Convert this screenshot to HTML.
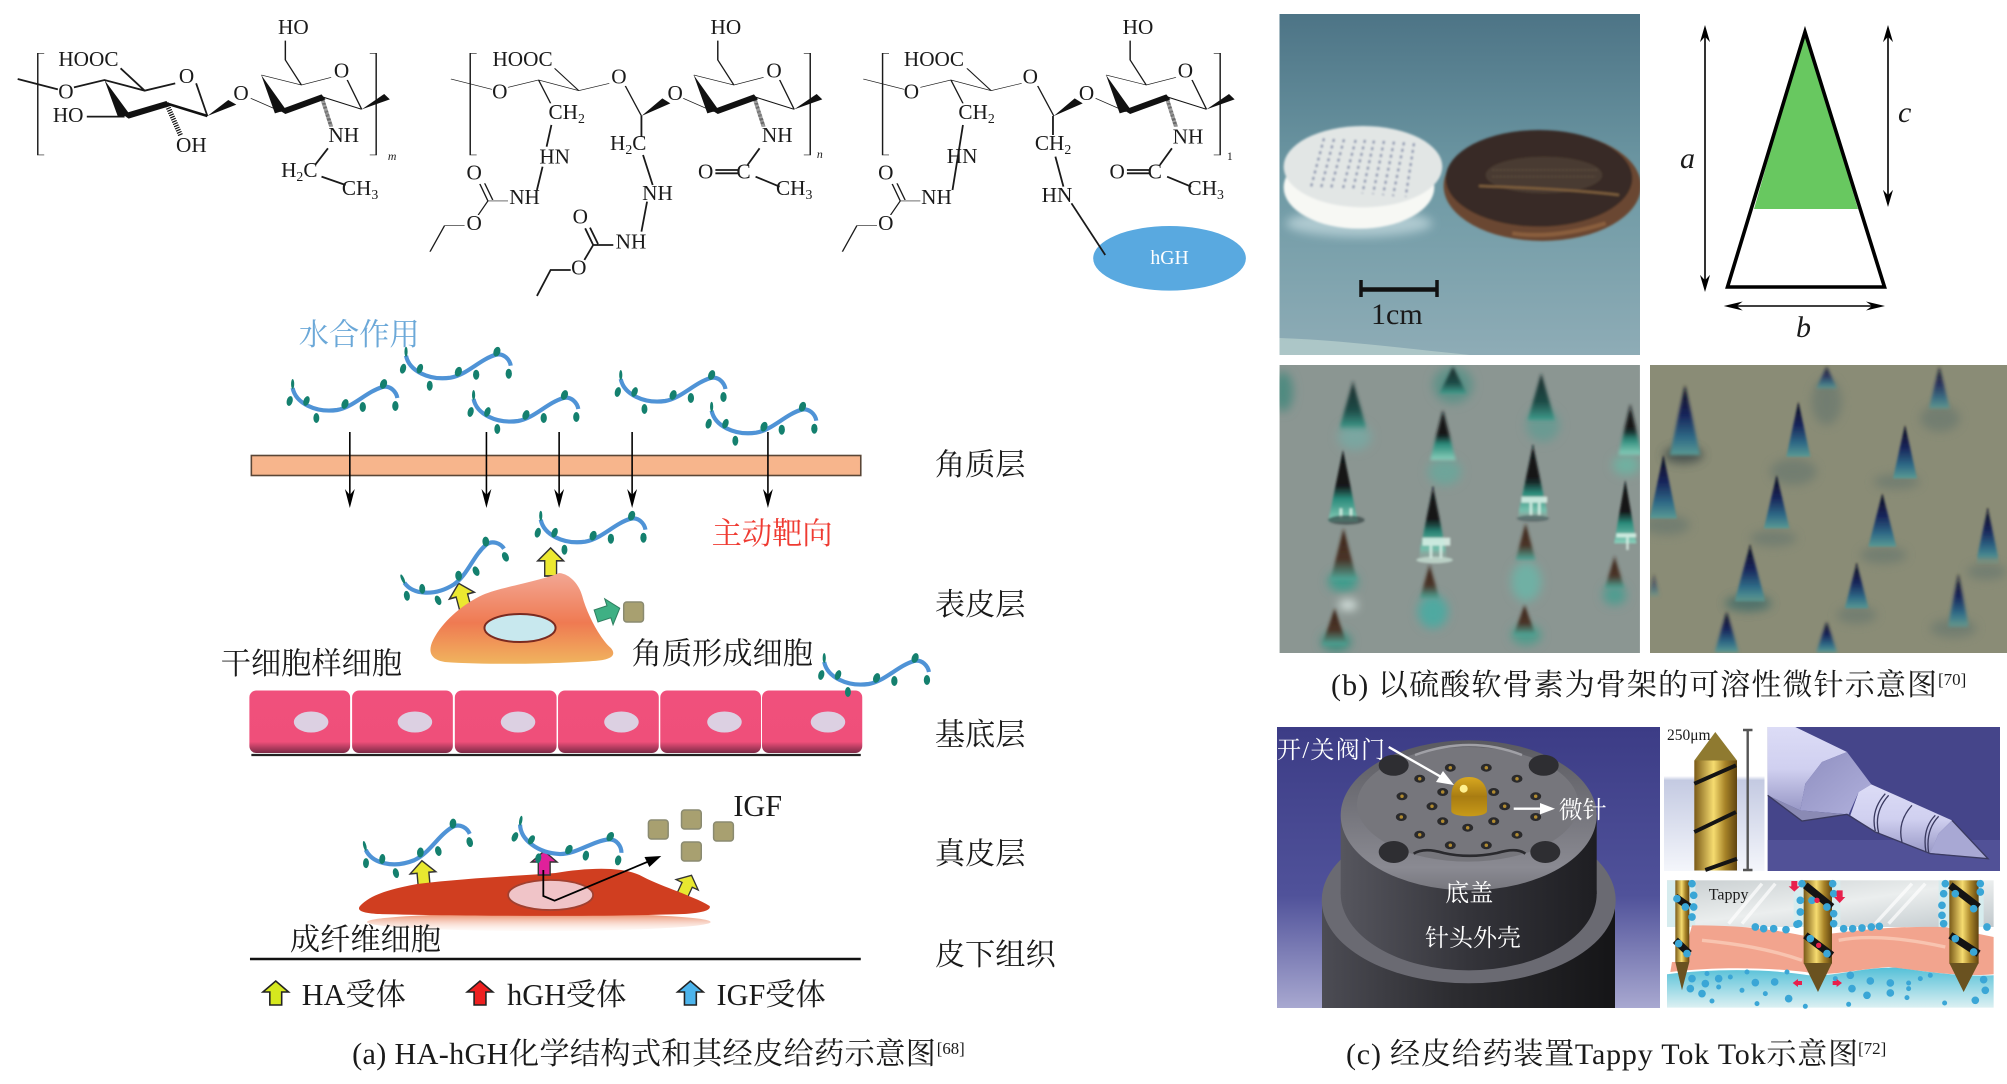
<!DOCTYPE html>
<html lang="zh"><head><meta charset="utf-8"><title>HA-hGH</title>
<style>
html,body{margin:0;padding:0;background:#fff;width:2007px;height:1084px;overflow:hidden}
svg{display:block;position:absolute;left:0;top:0}
text{font-family:"Liberation Serif","Noto Serif CJK SC",serif;fill:#1a1a1a}
.z *{vector-effect:non-scaling-stroke}
.b{stroke:#1a1a1a;stroke-width:1.8;fill:none}
.m text{font-size:21.5px;text-anchor:middle}
.c{font-size:30.6px}
.w{fill:#fff;font-size:24px}
.ar{stroke:#333;stroke-width:1.4}
</style></head><body>
<svg width="2007" height="1084" viewBox="0 0 2007 1084" xmlns="http://www.w3.org/2000/svg">
<defs>
<g id="strand">
<path d="M4,8C7,23 27,33 49,30C66,27 78,12 95,7C103,5 109,12 110,18" fill="none" stroke="#4f93d6" stroke-width="4.2"/>
<g fill="#14806e"><ellipse cx="1" cy="21" rx="3" ry="5" transform="rotate(15 1 21)"/><ellipse cx="4" cy="4" rx="1.6" ry="5"/><ellipse cx="18" cy="21" rx="3" ry="5" transform="rotate(20 18 21)"/><ellipse cx="28" cy="38" rx="3" ry="5"/><ellipse cx="57" cy="24" rx="3.4" ry="5" transform="rotate(20 57 24)"/><ellipse cx="75" cy="27" rx="3.2" ry="5"/><ellipse cx="96" cy="4" rx="3.4" ry="5" transform="rotate(20 96 4)"/><ellipse cx="108" cy="26" rx="3.2" ry="5"/></g>
</g>
<polygon id="up" points="-6,0 -6,-13 -13,-13 0,-24 13,-13 6,-13 6,0"/>
<g id="ah"><polygon points="0,0 -5,-19 0,-13 5,-19" fill="#000"/></g>
<linearGradient id="ker" x1="0" y1="0" x2="0" y2="1"><stop offset="0" stop-color="#f3a794"/><stop offset=".55" stop-color="#ef7a52"/><stop offset="1" stop-color="#f0b45e"/></linearGradient>
<linearGradient id="cell" x1="0" y1="0" x2="0" y2="1"><stop offset="0" stop-color="#f0507c"/><stop offset=".82" stop-color="#ef4f7a"/><stop offset="1" stop-color="#7c2a46"/></linearGradient>
<linearGradient id="shad" x1="0" y1="0" x2="0" y2="1"><stop offset="0" stop-color="#e8805a"/><stop offset="1" stop-color="#fbe6dc" stop-opacity=".2"/></linearGradient>
<linearGradient id="ph" x1="0" y1="0" x2="0" y2="1"><stop offset="0" stop-color="#4d7486"/><stop offset=".5" stop-color="#6f9aa5"/><stop offset="1" stop-color="#8eacb6"/></linearGradient>
<linearGradient id="n1" x1="0" y1="0" x2="0" y2="1"><stop offset="0" stop-color="#101214"/><stop offset=".5" stop-color="#15181a"/><stop offset=".68" stop-color="#2a8a7a"/><stop offset="1" stop-color="#8cd0bc"/></linearGradient>
<linearGradient id="n1f" x1="0" y1="0" x2="0" y2="1"><stop offset="0" stop-color="#1a2c2c"/><stop offset=".6" stop-color="#1e4a46"/><stop offset="1" stop-color="#3f9c8c"/></linearGradient>
<linearGradient id="n2" x1="0" y1="0" x2="0" y2="1"><stop offset="0" stop-color="#3c2418"/><stop offset=".6" stop-color="#4a3428"/><stop offset="1" stop-color="#4fa99a"/></linearGradient>
<linearGradient id="n3" x1="0" y1="0" x2="0" y2="1"><stop offset="0" stop-color="#0c0e1c"/><stop offset=".42" stop-color="#18245a"/><stop offset=".75" stop-color="#2f6a86"/><stop offset="1" stop-color="#5a9a94"/></linearGradient>
<polygon id="nd1" points="0,0 -12,1 12,1" fill="url(#n1)"/>
<polygon id="nd1f" points="0,0 -12,1 12,1" fill="url(#n1f)"/>
<polygon id="nd2" points="0,0 -11,1 11,1" fill="url(#n2)"/>
<polygon id="nd3" points="0,0 -12,1 12,1" fill="url(#n3)"/>
<filter id="bl" x="-30%" y="-30%" width="160%" height="160%"><feGaussianBlur stdDeviation="5"/></filter>
<filter id="blw" x="-30%" y="-30%" width="160%" height="160%"><feGaussianBlur stdDeviation="14"/></filter>
<filter id="bl1" x="-10%" y="-10%" width="120%" height="120%"><feGaussianBlur stdDeviation="3"/></filter>
<linearGradient id="bgc" x1="0" y1="0" x2="0" y2="1"><stop offset="0" stop-color="#3c3c86"/><stop offset=".6" stop-color="#50529a"/><stop offset="1" stop-color="#a8a8d0"/></linearGradient>
<linearGradient id="shell" x1="0" y1="0" x2="1" y2="0"><stop offset="0" stop-color="#4c4c54"/><stop offset=".45" stop-color="#2c2c30"/><stop offset="1" stop-color="#151517"/></linearGradient>
<linearGradient id="cyl" x1="0" y1="0" x2="1" y2="0"><stop offset="0" stop-color="#56565e"/><stop offset=".5" stop-color="#34343a"/><stop offset="1" stop-color="#1e1e22"/></linearGradient>
<linearGradient id="rim" x1="0" y1="0" x2="0" y2="1"><stop offset="0" stop-color="#5a5a60"/><stop offset=".85" stop-color="#8a8a92"/><stop offset="1" stop-color="#77777e"/></linearGradient>
<linearGradient id="gold" x1="0" y1="0" x2="1" y2="0"><stop offset="0" stop-color="#7a5a18"/><stop offset=".45" stop-color="#f6dc70"/><stop offset=".72" stop-color="#a88428"/><stop offset="1" stop-color="#604410"/></linearGradient>
<linearGradient id="bul" x1="0" y1="0" x2="0" y2="1"><stop offset="0" stop-color="#d8a820"/><stop offset=".5" stop-color="#a87c12"/><stop offset="1" stop-color="#c89a18"/></linearGradient>
<linearGradient id="bgn" x1="0" y1="0" x2="0" y2="1"><stop offset="0" stop-color="#fff"/><stop offset=".34" stop-color="#fff"/><stop offset=".37" stop-color="#c4cae2"/><stop offset="1" stop-color="#f4f6fb"/></linearGradient>
<linearGradient id="lav" x1="0" y1="0" x2="0" y2="1"><stop offset="0" stop-color="#dcdcf6"/><stop offset=".5" stop-color="#d0d0f0"/><stop offset="1" stop-color="#9898c6"/></linearGradient>
<linearGradient id="lav2" x1="0" y1="0" x2="1" y2="1"><stop offset="0" stop-color="#8f8fc0"/><stop offset="1" stop-color="#b0b0dc"/></linearGradient>
<linearGradient id="sky" x1="0" y1="0" x2="0" y2="1"><stop offset="0" stop-color="#55c0d8"/><stop offset="1" stop-color="#dcf0f2"/></linearGradient>
<linearGradient id="topg" x1="0" y1="0" x2="1" y2="1"><stop offset="0" stop-color="#c8ced0"/><stop offset=".5" stop-color="#ebeeee"/><stop offset="1" stop-color="#c0c8cc"/></linearGradient>

<g id="ring2">
<path class="b" d="M312,295L350,335M325,225L375,255L412,232M432,240L450,328M375,255L355,180L355,122"/>
<polygon points="325,225 342,340 356,330" fill="#111"/>
<polygon points="347,330 400,283 405,298 355,342" fill="#111"/>
<path d="M400,290L450,328" stroke="#111" stroke-width="2.6" fill="none"/>
<polygon points="450,328 478,282 485,298" fill="#111"/>
<path d="M400,290L412,380" stroke="#111" stroke-width="5" stroke-dasharray="1.2 1.2" fill="none"/>
</g>
<g id="left2">
<path class="b" d="M561,237L612,268M632,262L670,240L720,272L758,250M720,272L690,205M670,240L685,310M632,603L607,603M607,603L595,645M578,677L553,677L535,755"/>
<path class="b" d="M607,603L597,552M613,600L603,550"/>
<path class="b" d="M778,258L798,348"/>
<polygon points="798,348 824,295 834,310" fill="#111"/>
</g>
<path id="br" class="b" d="M55,160L47,160L47,465L55,465"/>
<path id="brr" class="b" d="M460,160L468,160L468,465L460,465"/>
</defs>

<!-- Chemical structures -->
<g class="z" transform="scale(.8038,.3333)">
<use href="#br"/><use href="#brr"/>
<path class="b" d="M22,237L72,268M92,262L130,240L180,272L218,250M180,272L150,205M244,250L258,348M108,350L155,350"/>
<polygon points="130,240 147,352 162,345" fill="#111"/>
<polygon points="152,342 207,303 212,318 160,356" fill="#111"/>
<path d="M207,310L258,348" stroke="#111" stroke-width="2.6"/>
<polygon points="258,348 284,300 294,314" fill="#111"/>
<path d="M207,310L225,408" stroke="#111" stroke-width="5" stroke-dasharray="1.2 1.2"/>
<use href="#ring2"/>
<path class="b" d="M408,445L392,495M400,530L430,555"/>

<use href="#br" transform="translate(538,0)"/><use href="#brr" transform="translate(540,0)"/>
<use href="#left2"/>
<use href="#ring2" transform="translate(538,0)"/>
<path class="b" d="M686,375L680,440M675,500L668,570"/>
<path class="b" d="M945,445L930,495M890,510L918,510M890,520L918,520M940,530L970,560"/>
<path class="b" d="M798,348L798,410M800,465L812,555M805,605L798,695M763,735L738,735L727,780M710,810L685,810L668,888M738,735L728,685M744,732L734,683"/>

<use href="#br" transform="translate(1051,0)"/><use href="#brr" transform="translate(1050,0)"/>
<use href="#left2" transform="translate(513,0)"/>
<use href="#ring2" transform="translate(1051,0)"/>
<path class="b" d="M1198,375L1185,570"/>
<path class="b" d="M1310,348L1310,405M1313,470L1323,560"/>
<path class="b" d="M1458,445L1443,495M1402,510L1430,510M1402,520L1430,520M1452,530L1482,560"/>
<ellipse cx="1455" cy="775" rx="95" ry="97" fill="#59a9e0"/>
<path class="b" d="M1333,610L1375,765"/>
</g>
<g class="m" transform="scale(.98783,1)">
<text x="89.5" y="66">HOOC</text><text x="66.7" y="98.7">O</text><text x="188.8" y="83">O</text><text x="69" y="122">HO</text><text x="193.7" y="152">OH</text><text x="244" y="100">O</text><text x="297" y="34">HO</text><text x="345.8" y="77.7">O</text><text x="348" y="142">NH</text><text x="303" y="177">H<tspan font-size="14" dy="4">2</tspan><tspan dy="-4">C</tspan></text><text x="364.5" y="195">CH<tspan font-size="14" dy="4">3</tspan></text><text x="397" y="160" style="font-size:12px;font-style:italic">m</text>
<text x="529" y="66">HOOC</text><text x="506" y="98.7">O</text><text x="626.5" y="83.7">O</text><text x="573.7" y="119">CH<tspan font-size="14" dy="4">2</tspan></text><text x="561.5" y="163.7">HN</text><text x="531" y="204">NH</text><text x="480" y="179.7">O</text><text x="480" y="230">O</text><text x="683.5" y="100">O</text><text x="734.8" y="34">HO</text><text x="783.6" y="77.7">O</text><text x="786.8" y="142">NH</text><text x="636" y="150">H<tspan font-size="14" dy="4">2</tspan><tspan dy="-4">C</tspan></text><text x="665.6" y="200">NH</text><text x="587.5" y="223.7">O</text><text x="638.8" y="248.7">NH</text><text x="585.9" y="274.3">O</text><text x="714.4" y="178.7">O</text><text x="752.7" y="178.7">C</text><text x="804" y="195">CH<tspan font-size="14" dy="4">3</tspan></text><text x="830" y="158" style="font-size:12px;font-style:italic">n</text>
<text x="945.5" y="66">HOOC</text><text x="922.7" y="98.7">O</text><text x="1043" y="83.7">O</text><text x="988.6" y="119">CH<tspan font-size="14" dy="4">2</tspan></text><text x="974" y="163">HN</text><text x="948" y="204">NH</text><text x="896.7" y="179.7">O</text><text x="896.7" y="230">O</text><text x="1100" y="100">O</text><text x="1152" y="34">HO</text><text x="1200" y="77.7">O</text><text x="1202.6" y="143.7">NH</text><text x="1066" y="150">CH<tspan font-size="14" dy="4">2</tspan></text><text x="1070" y="202">HN</text><text x="1131" y="178.7">O</text><text x="1169" y="178.7">C</text><text x="1220.6" y="195">CH<tspan font-size="14" dy="4">3</tspan></text><text x="1245" y="160" style="font-size:12px">1</text>
<text x="1184" y="264" style="font-size:20px;fill:#fff">hGH</text>
</g>

<!-- Skin diagram -->
<g transform="translate(200,0) scale(.9877,1) translate(-200,0)">
<text class="c" x="300" y="345" style="fill:#6ba8d8">水合作用</text>
<use href="#strand" x="289.8" y="380"/><use href="#strand" x="404.6" y="347.7"/><use href="#strand" x="473" y="391"/><use href="#strand" x="622" y="371"/><use href="#strand" x="714" y="402.7"/>
<rect x="252" y="455.5" width="617" height="20" fill="#f7b58c" stroke="#5a4636" stroke-width="1.6"/>
<g stroke="#000" stroke-width="1.6"><path d="M351.7,432V500M490,432V500M563.6,432V500M637.5,432V500M775,432V500"/></g>
<use href="#ah" x="351.7" y="508"/><use href="#ah" x="490" y="508"/><use href="#ah" x="563.6" y="508"/><use href="#ah" x="637.5" y="508"/><use href="#ah" x="775" y="508"/>
<text class="c" x="944" y="475">角质层</text>
<text class="c" x="718" y="544" style="fill:#ef3b32">主动靶向</text>

<use href="#up" transform="translate(555,576) scale(1,1.17)" fill="#ece830" class="ar"/>
<use href="#up" transform="translate(469,610) rotate(-15) scale(1,1.15)" fill="#ece830" class="ar"/>
<path d="M563.6,573C575,574 584,585 587,596C592,615 606,640 616,648C622,655 617,660 598,661C560,664 490,665 448,662C434,660 430,652 436,640C445,622 466,604 486,595C505,587 545,581 563.6,573Z" fill="url(#ker)"/>
<ellipse cx="524" cy="628" rx="36" ry="14" fill="#c8e8ee" stroke="#7a2a20" stroke-width="2"/>
<use href="#up" transform="translate(601,616) rotate(72) scale(1.05)" fill="#3fb084" stroke="#2f7f60" stroke-width="1"/>
<rect x="629" y="602" width="20" height="20" rx="3" fill="#a8a070" stroke="#8a8a70" stroke-width="1.5"/>
<use href="#strand" x="541" y="511.7"/>
<use href="#strand" transform="translate(400,577) rotate(-24)"/>
<text class="c" x="944" y="615">表皮层</text>
<text class="c" x="221" y="674">干细胞样细胞</text>
<text class="c" x="637" y="664">角质形成细胞</text>

<g fill="url(#cell)"><rect x="250" y="690.5" width="102" height="62.5" rx="7"/><rect x="354" y="690.5" width="102" height="62.5" rx="7"/><rect x="458" y="690.5" width="103" height="62.5" rx="7"/><rect x="562.5" y="690.5" width="102" height="62.5" rx="7"/><rect x="666" y="690.5" width="102" height="62.5" rx="7"/><rect x="769" y="690.5" width="101.5" height="62.5" rx="7"/></g>
<g fill="#dcd0e2"><ellipse cx="312.5" cy="722" rx="17.5" ry="10.5"/><ellipse cx="417.6" cy="722" rx="17.5" ry="10.5"/><ellipse cx="522" cy="722" rx="17.5" ry="10.5"/><ellipse cx="626.7" cy="722" rx="17.5" ry="10.5"/><ellipse cx="731" cy="722" rx="17.5" ry="10.5"/><ellipse cx="835.8" cy="722" rx="17.5" ry="10.5"/></g>
<path d="M252,755H869" stroke="#222" stroke-width="2.2"/>
<use href="#strand" x="828" y="654"/>
<text class="c" x="944" y="745">基底层</text>

<ellipse cx="543" cy="922" rx="174" ry="9" fill="url(#shad)"/>
<use href="#up" transform="translate(427,887) rotate(-5) scale(1,1.1)" fill="#e8e830" class="ar"/>
<use href="#up" transform="translate(688,896) rotate(25) scale(.95)" fill="#e8e830" class="ar"/>
<path d="M362,906C372,895 392,889 420,884C470,878 520,876 560,873C590,868 625,866 645,875C665,886 700,896 716,906C718,911 705,913 690,914C600,917 470,916 380,914C366,913 358,911 362,906Z" fill="#d03e20"/>
<ellipse cx="555" cy="895" rx="43" ry="15" fill="#f0c4c8" stroke="#a04030" stroke-width="1.8"/>
<use href="#up" transform="translate(548.5,875)" fill="#e0209a" class="ar"/>
<path d="M547.6,870V896L559,900.7L660,859" fill="none" stroke="#000" stroke-width="1.8"/>
<polygon points="667,856 650,857 655,867" fill="#000"/>
<use href="#strand" transform="translate(362,843) rotate(-14)"/>
<use href="#strand" transform="translate(521.5,816) rotate(10)"/>
<g fill="#a8a070" stroke="#8a8a70" stroke-width="1.5"><rect x="654" y="820" width="20" height="19" rx="3"/><rect x="687.5" y="810" width="20" height="19" rx="3"/><rect x="720" y="822" width="20" height="19" rx="3"/><rect x="687.5" y="842" width="20" height="19" rx="3"/></g>
<text class="c" x="740" y="816">IGF</text>
<text class="c" x="944" y="864">真皮层</text>
<text class="c" x="291" y="950" textLength="153">成纤维细胞</text>
<path d="M250.6,959H869" stroke="#111" stroke-width="2.4"/>
<text class="c" x="944" y="965">皮下组织</text>

<use href="#up" transform="translate(276.7,1005)" fill="#d6e81e" stroke="#222" stroke-width="1.6"/>
<text class="c" x="303" y="1005">HA受体</text>
<use href="#up" transform="translate(483.5,1005)" fill="#ee2020" stroke="#222" stroke-width="1.6"/>
<text class="c" x="511" y="1005">hGH受体</text>
<use href="#up" transform="translate(696.5,1005)" fill="#4cb4ec" stroke="#222" stroke-width="1.6"/>
<text class="c" x="723" y="1005">IGF受体</text>
<text class="c" x="354" y="1064" textLength="591">(a) HA-hGH化学结构式和其经皮给药示意图</text>
<text x="946" y="1054" style="font-size:17px">[68]</text>
</g>

<!-- (b) photo -->
<svg x="1279.5" y="14" width="360.5" height="341" viewBox="1279.5 14 360.5 341">
<rect x="1279.5" y="14" width="360.5" height="341" fill="url(#ph)"/>
<path d="M1279.5,338C1340,340 1400,348 1470,355H1279.5Z" fill="#c6dcd6" opacity=".55"/>
<g transform="translate(1279,110) scale(.3333)">
<ellipse cx="240" cy="340" rx="220" ry="40" fill="#d4e6ea" opacity=".6" filter="url(#blw)"/>
<g filter="url(#bl1)">
<ellipse cx="240" cy="232" rx="226" ry="124" fill="#f7f8f4"/>
<ellipse cx="252" cy="170" rx="238" ry="122" fill="#e2e6e5"/>
<path d="M135,85L95,235M165,87L125,238M195,88L155,240M230,90L190,243M258,90L220,245M285,92L250,250M315,93L282,252M345,95L312,255M375,97L342,258M405,100L380,260" stroke="#66749e" stroke-width="6" stroke-dasharray="9 11" fill="none"/>
<ellipse cx="790" cy="228" rx="296" ry="165" fill="#6b4630"/>
<ellipse cx="780" cy="205" rx="280" ry="145" fill="#382a25"/>
<ellipse cx="795" cy="195" rx="175" ry="55" fill="#4a3a30"/>
<path d="M640,180H960M640,200H950" stroke="#5c4d3e" stroke-width="6" stroke-dasharray="6 5"/>
<path d="M600,228C720,232 900,240 1020,255" stroke="#80603c" stroke-width="7" fill="none"/>
<path d="M700,370C800,385 900,365 980,340" stroke="#8a5f3c" stroke-width="12" fill="none"/>
</g>
</g>
<path d="M1362,289.5H1436" stroke="#111" stroke-width="4.5"/><path d="M1361,280V297M1437,280V297" stroke="#111" stroke-width="3.5"/>
<text class="c" x="1371" y="324" style="font-size:30px">1cm</text>
</svg>

<!-- triangle -->
<polygon points="1805,30 1754,209 1858,209" fill="#68c860"/>
<polygon points="1805,32 1727.5,287 1884.5,287" fill="none" stroke="#000" stroke-width="3.6" stroke-linejoin="miter"/>
<path d="M1705,35V282M1888,35V197M1734,306H1875" stroke="#000" stroke-width="1.6"/>
<use href="#ah" transform="translate(1705,25) rotate(180) scale(1,.9)"/><use href="#ah" transform="translate(1705,292) scale(1,.9)"/>
<use href="#ah" transform="translate(1888,25) rotate(180) scale(1,.9)"/><use href="#ah" transform="translate(1888,207) scale(1,.9)"/>
<use href="#ah" transform="translate(1723.7,306) rotate(90) scale(.9,1)"/><use href="#ah" transform="translate(1885,306) rotate(-90) scale(.9,1)"/>
<text x="1680" y="168" style="font-size:30px;font-style:italic">a</text>
<text x="1898" y="122" style="font-size:30px;font-style:italic">c</text>
<text x="1796" y="337" style="font-size:30px;font-style:italic">b</text>

<!-- micro-needle photos -->
<svg x="1279.5" y="365" width="360.5" height="288" viewBox="0 0 1081 864">
<rect width="1081" height="864" fill="#8b9692"/>
<g filter="url(#blw)">
<ellipse cx="10" cy="80" rx="30" ry="60" fill="#4f8a80"/>
<ellipse cx="520" cy="60" rx="60" ry="55" fill="#5f9288"/>
<ellipse cx="790" cy="180" rx="50" ry="50" fill="#6a9a92"/>
<ellipse cx="225" cy="215" rx="50" ry="40" fill="#7aa6a0"/>
<ellipse cx="495" cy="320" rx="50" ry="40" fill="#6ea49a"/>
<ellipse cx="1040" cy="300" rx="40" ry="30" fill="#6fb0a0"/>
<ellipse cx="190" cy="650" rx="45" ry="30" fill="#3f9c8c"/>
<ellipse cx="740" cy="650" rx="45" ry="60" fill="#70b0a4"/>
<ellipse cx="460" cy="740" rx="45" ry="50" fill="#4fa9a0"/>
<ellipse cx="1005" cy="690" rx="35" ry="30" fill="#4f9c90"/>
<ellipse cx="170" cy="830" rx="45" ry="30" fill="#3f8f80"/>
<ellipse cx="740" cy="810" rx="45" ry="30" fill="#4f9c8c"/>
<ellipse cx="205" cy="720" rx="28" ry="14" fill="#e4f0ec"/>
</g>
<g filter="url(#bl)">
<use href="#nd2" transform="translate(192,490) scale(3.6,155)"/><use href="#nd2" transform="translate(738,475) scale(2.7,110)"/><use href="#nd2" transform="translate(450,600) scale(2.7,100)"/><use href="#nd2" transform="translate(1005,575) scale(2.7,95)"/><use href="#nd2" transform="translate(165,730) scale(3.4,110)"/><use href="#nd2" transform="translate(735,720) scale(3,90)"/>
<use href="#nd1f" transform="translate(220,50) scale(3.4,140)"/><use href="#nd1f" transform="translate(520,5) scale(3.4,80)"/><use href="#nd1f" transform="translate(785,25) scale(3.4,140)"/>
<use href="#nd1" transform="translate(1052,120) scale(3,150)"/><use href="#nd1" transform="translate(490,135) scale(3.2,150)"/>
</g>
<g filter="url(#bl1)">
<use href="#nd1" transform="translate(190,255) scale(3.7,215)"/><use href="#nd1" transform="translate(760,240) scale(3.7,210)"/><use href="#nd1" transform="translate(460,365) scale(3.4,200)"/><use href="#nd1" transform="translate(1037,345) scale(2.8,190)"/>
<g fill="#dff4ea" opacity=".85"><rect x="725" y="395" width="78" height="18"/><rect x="750" y="410" width="8" height="40"/><rect x="775" y="410" width="8" height="40"/><rect x="428" y="518" width="84" height="24"/><rect x="450" y="540" width="8" height="40"/><rect x="480" y="540" width="8" height="40"/><rect x="180" y="430" width="8" height="30"/><rect x="210" y="430" width="8" height="30"/><rect x="1010" y="505" width="60" height="12"/><rect x="1040" y="515" width="7" height="40"/></g>
<ellipse cx="200" cy="465" rx="55" ry="14" fill="#2a3a3a" opacity=".65"/>
<ellipse cx="465" cy="585" rx="55" ry="10" fill="#cfe8dc" opacity=".7"/>
<ellipse cx="760" cy="460" rx="48" ry="10" fill="#34484a" opacity=".5"/>
</g>
</svg>
<svg x="1650" y="365" width="357" height="288" viewBox="0 0 1071 864">
<rect width="1071" height="864" fill="#8a8c76"/>
<g filter="url(#blw)" fill="#6d7a70" opacity=".8">
<ellipse cx="100" cy="270" rx="60" ry="25" fill="#3e4a48"/><ellipse cx="50" cy="480" rx="70" ry="30"/><ellipse cx="430" cy="320" rx="70" ry="40"/><ellipse cx="740" cy="350" rx="70" ry="22"/><ellipse cx="370" cy="520" rx="70" ry="24"/><ellipse cx="700" cy="570" rx="70" ry="26"/><ellipse cx="1010" cy="620" rx="60" ry="24"/><ellipse cx="295" cy="715" rx="70" ry="24" fill="#3f6a68"/><ellipse cx="620" cy="750" rx="60" ry="26"/><ellipse cx="910" cy="790" rx="70" ry="28"/><ellipse cx="870" cy="160" rx="60" ry="40"/><ellipse cx="530" cy="110" rx="45" ry="70"/>
</g>
<g filter="url(#bl)">
<use href="#nd3" transform="translate(105,60) scale(3.8,210)"/><use href="#nd3" transform="translate(530,5) scale(2.6,65)" opacity=".8"/><use href="#nd3" transform="translate(868,5) scale(2.6,125)" opacity=".85"/><use href="#nd3" transform="translate(230,740) scale(3,122)"/><use href="#nd3" transform="translate(530,770) scale(2.6,92)"/><use href="#nd3" transform="translate(925,630) scale(2.6,150)"/><use href="#nd3" transform="translate(12,630) scale(1.4,60)" opacity=".5"/>
</g>
<g filter="url(#bl1)">
<use href="#nd3" transform="translate(40,270) scale(3.4,190)"/><use href="#nd3" transform="translate(445,110) scale(3,165)"/><use href="#nd3" transform="translate(765,180) scale(3,160)"/><use href="#nd3" transform="translate(380,330) scale(3.2,160)"/><use href="#nd3" transform="translate(697,385) scale(3.5,160)"/><use href="#nd3" transform="translate(1013,430) scale(2.8,155)"/><use href="#nd3" transform="translate(300,540) scale(3.8,165)"/><use href="#nd3" transform="translate(620,595) scale(3,135)"/>
</g>
</svg>
<text class="c" x="1331" y="695" textLength="606" style="font-size:30px">(b) 以硫酸软骨素为骨架的可溶性微针示意图</text>
<text x="1938" y="685" style="font-size:17px">[70]</text>

<!-- (c) device -->
<rect x="1277" y="727" width="383" height="281" fill="url(#bgc)"/>
<rect x="1322" y="900" width="293" height="108" fill="url(#shell)"/>
<ellipse cx="1468.7" cy="900.3" rx="147" ry="83" fill="#6a6a72"/>
<rect x="1340.7" y="815" width="256" height="79" fill="url(#cyl)"/>
<ellipse cx="1468.7" cy="893.7" rx="128" ry="76.7" fill="url(#cyl)"/>
<ellipse cx="1468.7" cy="815.3" rx="128" ry="75" fill="url(#rim)"/>
<ellipse cx="1467.7" cy="804.3" rx="110.7" ry="57.3" fill="#76767c"/>
<g fill="#2e2e32"><ellipse cx="1393.7" cy="765.3" rx="15" ry="10.5"/><ellipse cx="1543.7" cy="765.3" rx="15" ry="10.5"/><ellipse cx="1393.7" cy="852" rx="15" ry="11"/><ellipse cx="1545.3" cy="852" rx="15" ry="11"/></g>
<g fill="#2a2a2c"><ellipse cx="1450.3" cy="767.7" rx="5.5" ry="4"/><ellipse cx="1486.3" cy="767.7" rx="5.5" ry="4"/><ellipse cx="1419.7" cy="778.7" rx="5.5" ry="4"/><ellipse cx="1517" cy="778.7" rx="5.5" ry="4"/><ellipse cx="1442.7" cy="792" rx="5.5" ry="4"/><ellipse cx="1493.7" cy="792" rx="5.5" ry="4"/><ellipse cx="1402" cy="796.3" rx="5.5" ry="4"/><ellipse cx="1535.7" cy="796.3" rx="5.5" ry="4"/><ellipse cx="1432" cy="806.3" rx="5.5" ry="4"/><ellipse cx="1504.7" cy="806.3" rx="5.5" ry="4"/><ellipse cx="1401.3" cy="817" rx="5.5" ry="4"/><ellipse cx="1535.7" cy="817" rx="5.5" ry="4"/><ellipse cx="1442.7" cy="821.3" rx="5.5" ry="4"/><ellipse cx="1493.7" cy="821.3" rx="5.5" ry="4"/><ellipse cx="1467.7" cy="827.7" rx="5.5" ry="4"/><ellipse cx="1419.7" cy="834.7" rx="5.5" ry="4"/><ellipse cx="1517" cy="834.7" rx="5.5" ry="4"/><ellipse cx="1450.3" cy="845.3" rx="5.5" ry="4"/><ellipse cx="1486.3" cy="845.3" rx="5.5" ry="4"/></g>
<path d="M1450.3,767.7h0M1486.3,767.7h0M1419.7,778.7h0M1517,778.7h0M1442.7,792h0M1493.7,792h0M1402,796.3h0M1535.7,796.3h0M1432,806.3h0M1504.7,806.3h0M1401.3,817h0M1535.7,817h0M1442.7,821.3h0M1493.7,821.3h0M1467.7,827.7h0M1419.7,834.7h0M1517,834.7h0M1450.3,845.3h0M1486.3,845.3h0" stroke="#b08a30" stroke-width="3.5" stroke-linecap="round"/>
<path d="M1415,755Q1470,735 1522,755" fill="none" stroke="#a0a0a6" stroke-width="2.4"/>
<path d="M1413.7,853.7Q1423.7,847 1443.7,853Q1468.7,858.7 1497,853Q1517,847 1525.3,853.7" fill="none" stroke="#2a2a2e" stroke-width="2.6"/>
<path d="M1451.3,811V796C1451.3,783 1459,777 1469,777C1479,777 1487,783 1487,796V811C1487,818 1451.3,818 1451.3,811Z" fill="url(#bul)"/>
<circle cx="1463.7" cy="788.7" r="4" fill="#fff090"/>
<path d="M1388.7,747L1450,782M1513.7,808.7H1545" stroke="#fff" stroke-width="2.4"/>
<polygon points="1454,785 1436,782 1443,771" fill="#fff"/><polygon points="1555,808.7 1540,803 1540,814.4" fill="#fff"/>
<text class="w" x="1277" y="758" textLength="108">开/关阀门</text>
<text class="w" x="1558.7" y="818">微针</text>
<text class="w" x="1445.3" y="901">底盖</text>
<text class="w" x="1425" y="946">针头外壳</text>

<rect x="1664" y="727" width="100.5" height="144" fill="url(#bgn)"/>
<polygon points="1715.3,732 1694.3,760.5 1737,760.5" fill="#8f7a30"/>
<rect x="1694.3" y="760.5" width="42.7" height="110" fill="url(#gold)"/>
<path d="M1694.3,783.7L1736,765.3M1694.3,832L1736,812M1705.3,870L1737,858.7" stroke="#141414" stroke-width="4"/>
<path d="M1747.7,730V870M1743,730H1752.5M1743,870H1752.5" stroke="#555" stroke-width="2.4"/>
<text x="1667" y="740" style="font-size:15.5px">250μm</text>

<rect x="1767.7" y="727" width="232.3" height="144" fill="#45458a"/>
<rect x="1767.7" y="840" width="232.3" height="31" fill="#5a5aa0" opacity=".6"/>
<g transform="translate(1662,727) scale(.3333)">
<polygon points="317,0 400,0 555,75 480,105 430,170 415,250 317,205" fill="url(#lav)"/>
<polygon points="555,75 628,172 590,195 560,262 415,250 430,170 480,105" fill="url(#lav2)"/>
<polygon points="317,205 415,250 555,262 420,282" fill="#8a8ab4"/>
<polygon points="628,172 870,280 830,320 805,380 640,315 565,265 590,195" fill="url(#lav)"/>
<polygon points="870,280 978,395 805,378 830,320" fill="#a8a8d4"/>
<path d="M670,200Q625,250 640,312M680,205Q635,255 650,318M750,235Q705,285 720,345M830,268Q790,310 800,378M820,265Q780,305 792,375M317,205L420,282L555,262L640,315L805,380L978,395L870,280" fill="none" stroke="#3a3a60" stroke-width="4"/>
</g>

<g transform="translate(1662,727) scale(.3333)">
<rect x="15" y="460" width="980" height="140" fill="url(#topg)"/>
<path d="M200,590L300,470M240,590L340,470M640,590L750,470M680,590L790,470" stroke="#fff" stroke-width="10" opacity=".7"/>
<path d="M15,600H100V460H15ZM395,460H535V600H395ZM830,460H965V600H830Z" fill="#d6ecee"/>
<path d="M90,595C200,595 300,600 420,625C500,630 600,595 850,600L995,630V742C900,750 800,735 680,720C560,730 500,750 430,735C300,720 150,720 25,735L30,705H60Z" fill="#f2a48e"/>
<path d="M120,640C220,650 320,665 420,700M530,640C630,620 760,640 850,660" stroke="#f8c4b0" stroke-width="10" fill="none"/>
<path d="M15,742C150,725 320,725 440,745C520,750 600,720 700,722C800,735 900,750 995,745V842H15Z" fill="url(#sky)"/>
<g fill="url(#gold)"><rect x="40" y="460" width="42" height="245"/><rect x="425" y="460" width="85" height="250"/><rect x="862" y="460" width="88" height="250"/></g>
<g fill="#6a5220"><polygon points="40,705 82,705 60,790"/><polygon points="425,708 510,708 468,795"/><polygon points="862,708 950,708 905,795"/></g>
<path d="M40,510L82,540M40,640L82,680M430,475L510,540M430,625L510,685M865,475L950,540M865,625L950,680" stroke="#141414" stroke-width="22"/>
<path d="M90,470h0M95,505h0M95,540h0M90,570h0M45,515h0M70,540h0M50,650h0M75,680h0M420,470h0M512,470h0M415,520h0M415,555h0M410,590h0M515,500h0M515,560h0M515,590h0M450,520h0M495,540h0M445,635h0M495,680h0M280,600h0M305,605h0M335,605h0M372,608h0M405,592h0M545,605h0M572,605h0M600,603h0M628,600h0M652,598h0M850,470h0M955,470h0M845,500h0M955,495h0M840,535h0M840,565h0M845,590h0M975,600h0M880,500h0M935,545h0M880,635h0M935,675h0M90,755h0M85,785h0M170,755h0M130,770h0M120,800h0M280,767h0M338,765h0M380,815h0M565,745h0M625,762h0M570,785h0M615,805h0M685,768h0M685,798h0M965,758h0M970,790h0M940,820h0" stroke="#3aa6d6" stroke-width="23" stroke-linecap="round"/>
<path d="M135,740h0M205,750h0M170,780h0M255,735h0M375,735h0M240,790h0M310,800h0M150,822h0M285,830h0M430,838h0M560,832h0M740,768h0M805,745h0M775,755h0M740,785h0M735,812h0M848,828h0M520,755h0" stroke="#3aa6d6" stroke-width="15" stroke-linecap="round"/>
<path d="M465,520h0M470,655h0" stroke="#e8204c" stroke-width="16" stroke-linecap="round"/>
<g fill="#e8204c"><polygon points="388,462 406,462 406,478 414,478 397,494 380,478 388,478"/><polygon points="524,490 542,490 542,510 550,510 533,528 516,510 524,510"/><polygon points="392,768 408,756 408,762 420,762 420,774 408,774 408,780"/><polygon points="540,768 524,756 524,762 512,762 512,774 524,774 524,780"/></g>
</g>
<text x="1708.7" y="899.3" style="font-size:16px">Tappy</text>

<text class="c" x="1346" y="1064" textLength="512" style="font-size:30px">(c) 经皮给药装置Tappy Tok Tok示意图</text>
<text x="1858" y="1054" style="font-size:17px">[72]</text>
</svg>
</body></html>
